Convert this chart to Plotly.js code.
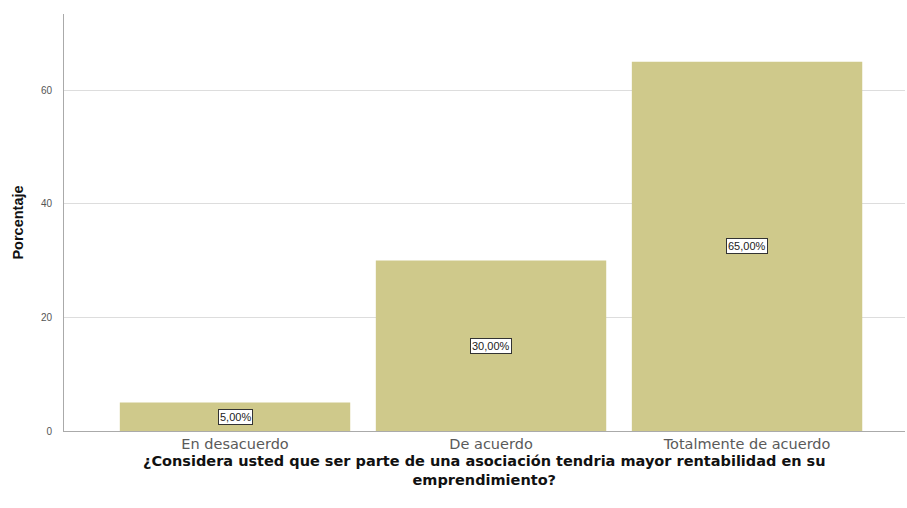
<!DOCTYPE html>
<html><head><meta charset="utf-8">
<script src="https://cdn.plot.ly/plotly-3.0.1.min.js"></script>
<style>html,body{margin:0;padding:0;background:#fff}#c{width:907px;height:508px}</style>
</head><body><div id="c"></div>
<script>
const categories = ["En desacuerdo", "De acuerdo", "Totalmente de acuerdo"];
const percentages = [5, 30, 65];
const labels = ["5,00%", "30,00%", "65,00%"];
const yTicks = [0, 20, 40, 60];
const xTitleLines = ["¿Considera usted que ser parte de una asociación tendria mayor rentabilidad en su", "emprendimiento?"];

const trace = {
  type: "bar",
  x: [0, 1, 2],
  y: percentages,
  marker: {color: "#cfc98b", line: {width: 0}},
  hoverinfo: "none"
};
const annotations = percentages.map((v, i) => ({
  x: i, y: v / 2, xref: "x", yref: "y",
  text: labels[i], showarrow: false,
  font: {family: "Arial, Liberation Sans, sans-serif", size: 11, color: "#222"},
  bgcolor: "#ffffff", bordercolor: "#333", borderwidth: 1, borderpad: 1
}));
annotations.push({
  x: 0.5, y: 0, xref: "paper", yref: "paper", yanchor: "top",
  yshift: -21, showarrow: false, borderpad: 0,
  text: "<b>" + xTitleLines.join("<br>") + "</b>",
  font: {family: "DejaVu Sans, sans-serif", size: 14.5, color: "#111"}
});
const layout = {
  width: 907, height: 508,
  margin: {l: 64, r: 2, t: 14, b: 77},
  paper_bgcolor: "#fff", plot_bgcolor: "#fff",
  bargap: 0.1,
  showlegend: false,
  xaxis: {
    range: [-0.668, 2.617],
    tickvals: [0, 1, 2], ticktext: categories,
    showgrid: false, zeroline: false,
    showline: true, linecolor: "#aaa", linewidth: 1,
    ticks: "", ticklen: 0,
    tickfont: {family: "DejaVu Sans, sans-serif", size: 14.5, color: "#5a5a5a"}
  },
  yaxis: {
    range: [0, 73.4],
    tickvals: yTicks,
    showgrid: true, gridcolor: "#ddd", gridwidth: 1,
    zeroline: false,
    showline: true, linecolor: "#aaa", linewidth: 1,
    ticks: "", ticklabelstandoff: 9,
    tickfont: {family: "Arial, Liberation Sans, sans-serif", size: 10, color: "#555"},
    title: {text: "<b>Porcentaje</b>", font: {family: "Arial, Liberation Sans, sans-serif", size: 14.5, color: "#111"}, standoff: 13}
  },
  annotations: annotations
};
Plotly.newPlot("c", [trace], layout, {displayModeBar: false, staticPlot: true});
</script></body></html>
